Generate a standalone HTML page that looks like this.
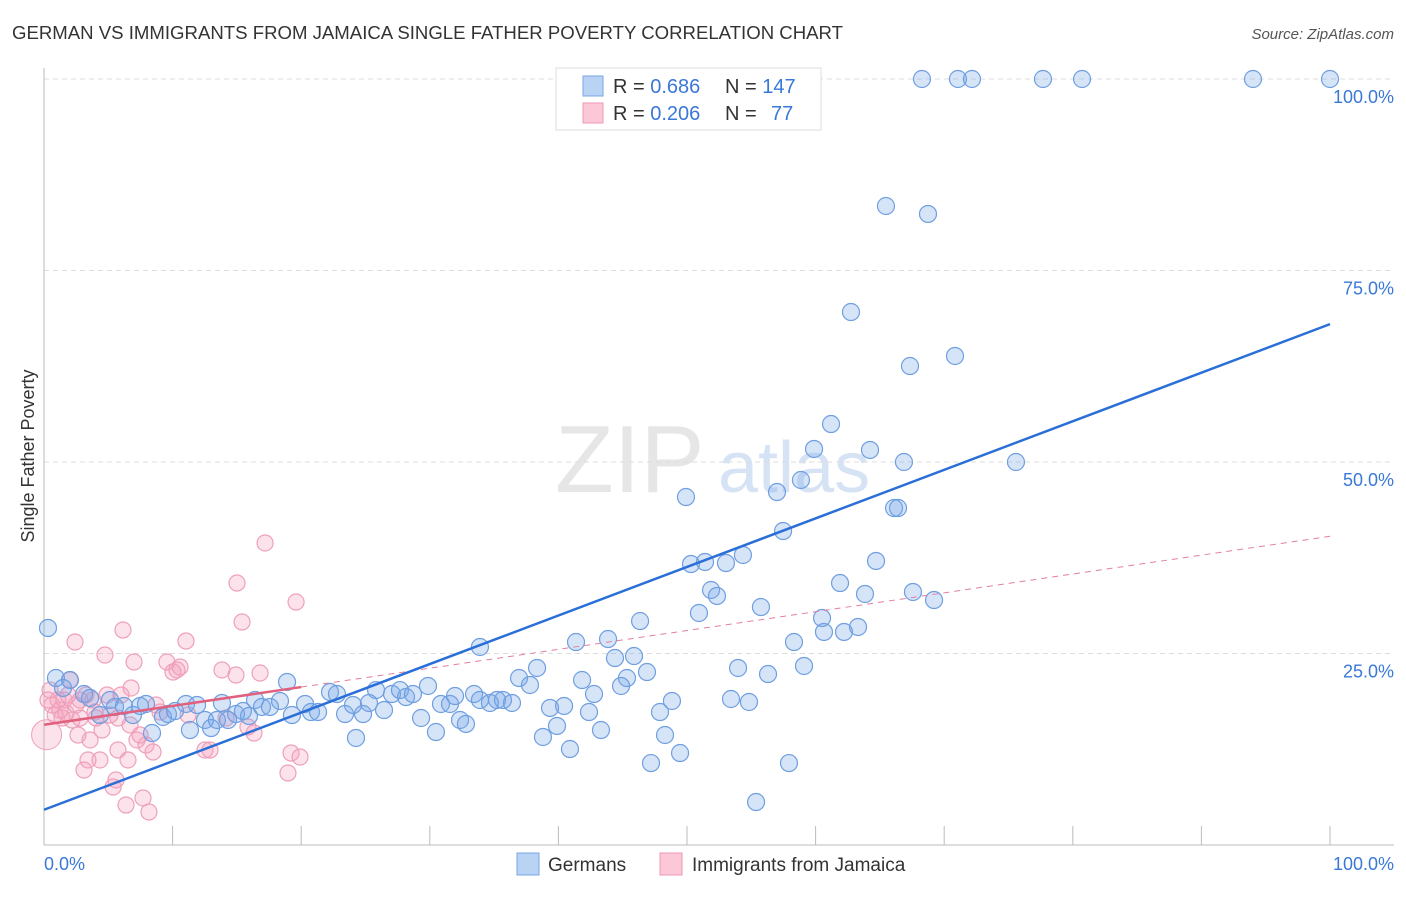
<!DOCTYPE html>
<html><head><meta charset="utf-8"><style>
body{margin:0;background:#fff;font-family:"Liberation Sans",sans-serif;}
svg text{font-family:"Liberation Sans",sans-serif;}
</style></head><body>
<svg width="1406" height="892" viewBox="0 0 1406 892">
<text x="12" y="39" font-size="18" fill="#333" textLength="831" lengthAdjust="spacingAndGlyphs">GERMAN VS IMMIGRANTS FROM JAMAICA SINGLE FATHER POVERTY CORRELATION CHART</text>
<text x="1394" y="39" font-size="15" fill="#555" font-style="italic" text-anchor="end">Source: ZipAtlas.com</text>
<text transform="translate(34,456) rotate(-90)" font-size="18" fill="#333" text-anchor="middle">Single Father Poverty</text>
<text x="555" y="492" font-size="96" fill="#e6e6e6" font-family="Liberation Serif">ZIP</text>
<text x="718" y="492" font-size="72" fill="#d6e3f5">atlas</text>
<g id="grid"></g>
<line x1="44" y1="68" x2="44" y2="845" stroke="#bbb"/>
<line x1="44" y1="845" x2="1394" y2="845" stroke="#bbb"/>
<g id="ticks"></g>
<g id="pink"></g>
<g id="blue"></g>
<g id="lines"></g>
<text x="44" y="870" font-size="18" fill="#3a78d8">0.0%</text>
<text x="1394" y="870" font-size="18" fill="#3a78d8" text-anchor="end">100.0%</text>
<rect x="556" y="68" width="265" height="62" fill="#fff" stroke="#ddd"/>
<rect x="583" y="76" width="20" height="20" fill="#b9d3f5" stroke="#7aa6e3"/>
<rect x="583" y="103" width="20" height="20" fill="#fcc7d7" stroke="#ee9ab6"/>
<text x="613" y="93" font-size="20" fill="#333">R = <tspan fill="#3a78d8">0.686</tspan><tspan x="725">N = </tspan><tspan fill="#3a78d8">147</tspan></text>
<text x="613" y="120" font-size="20" fill="#333">R = <tspan fill="#3a78d8">0.206</tspan><tspan x="725">N = </tspan><tspan fill="#3a78d8" x="771">77</tspan></text>
<rect x="517" y="853" width="22" height="22" fill="#b9d3f5" stroke="#7aa6e3"/>
<text x="548" y="871" font-size="19" fill="#333">Germans</text>
<rect x="660" y="853" width="22" height="22" fill="#fcc7d7" stroke="#ee9ab6"/>
<text x="692" y="871" font-size="19" fill="#333">Immigrants from Jamaica</text>
</svg>
<script>
const yTicks=[25,50,75,100];
const yTickLabels=["25.0%","50.0%","75.0%","100.0%"];
const xTickVals=[0,10,20,30,40,50,60,70,80,90,100];
const bluePx=[[922,79],[958,79],[972,79],[1043,79],[1082,79],[1253,79],[1330,79],[886,206],[928,214],[851,312],[910,366],[955,356],[831,424],[814,449],[870,450],[904,462],[1016,462],[686,497],[777,492],[801,480],[894,508],[898,508],[783,531],[743,555],[691,564],[705,562],[726,563],[711,590],[717,596],[840,583],[876,561],[865,594],[913,592],[934,600],[761,607],[699,613],[640,621],[822,618],[824,632],[844,632],[858,627],[794,642],[576,642],[608,639],[480,647],[634,656],[615,658],[647,672],[738,668],[768,674],[804,666],[582,680],[627,678],[621,686],[537,668],[519,678],[530,685],[594,694],[672,701],[660,712],[731,699],[749,702],[589,712],[564,706],[550,708],[601,730],[665,735],[543,737],[557,726],[570,749],[680,753],[651,763],[789,763],[756,802],[48,628],[56,678],[70,680],[63,688],[84,694],[90,698],[100,715],[110,700],[115,707],[124,706],[133,715],[140,706],[146,704],[152,733],[163,717],[168,714],[175,711],[186,704],[190,730],[197,705],[205,720],[211,728],[217,720],[222,703],[228,720],[236,714],[243,711],[249,716],[255,700],[262,707],[270,707],[280,701],[287,682],[292,715],[305,704],[311,712],[318,712],[330,692],[337,694],[345,714],[353,705],[356,738],[363,714],[369,703],[376,690],[384,710],[392,694],[400,690],[406,697],[413,694],[421,718],[428,686],[436,732],[441,704],[450,704],[455,696],[460,720],[466,724],[474,694],[480,700],[490,703],[497,700],[503,700],[512,703]];
const pinkPx=[[48,700],[52,705],[55,715],[58,700],[62,718],[66,713],[70,680],[72,720],[75,642],[78,735],[80,700],[84,770],[86,695],[88,760],[90,740],[93,700],[96,718],[100,760],[102,730],[105,655],[107,695],[110,715],[113,787],[116,780],[118,750],[121,695],[123,630],[126,805],[128,760],[131,688],[134,662],[137,740],[140,735],[143,798],[146,745],[149,812],[153,752],[156,705],[160,712],[167,662],[173,672],[177,670],[180,667],[186,641],[188,715],[205,750],[210,750],[222,670],[226,718],[236,675],[237,583],[242,622],[248,727],[254,733],[260,673],[265,543],[288,773],[291,753],[296,602],[300,757],[68,695],[95,712],[118,718],[60,710],[80,718],[130,725],[50,690],[64,700],[76,705]];
const germanX=bluePx.map(p=>+((p[0]-44)/12.86).toFixed(2));
const germanY=bluePx.map(p=>+((845-p[1])/7.66).toFixed(2));
const jamaicaX=pinkPx.map(p=>+((p[0]-44)/12.86).toFixed(2));
const jamaicaY=pinkPx.map(p=>+((845-p[1])/7.66).toFixed(2));
const blueFit=[4.6,68.0];
const pinkFit=[15.7,40.3];
const pinkSolidEnd=20;
const xs=v=>44+v*12.86, ys=v=>845-v*7.66;
const NS="http://www.w3.org/2000/svg";
function mk(t,a,parent){const e=document.createElementNS(NS,t);for(const k in a)e.setAttribute(k,a[k]);document.getElementById(parent).appendChild(e);return e;}
yTicks.forEach((t,i)=>{
 const l=mk('line',{x1:44,x2:1394,y1:ys(t),y2:ys(t),stroke:'#ddd','stroke-dasharray':'5,4'},'grid');
 
 
 const tx=mk('text',{x:1394,y:ys(t)+24,'font-size':18,fill:'#3a78d8','text-anchor':'end'},'grid');
 tx.textContent=yTickLabels[i];
 
 
});
xTickVals.forEach(v=>{
 const l=mk('line',{x1:xs(v),x2:xs(v),y1:826,y2:845,stroke:'#bbb'},'ticks');
 
 
});
jamaicaX.forEach((x,i)=>{
 const c=mk('circle',{cx:xs(x),cy:ys(jamaicaY[i]),r:8,fill:'rgba(246,160,188,0.3)',stroke:'#eea0ba','stroke-width':1.2},'pink');
 
 
});
const big=mk('circle',{cx:xs(0.2),cy:ys(14.4),r:15,fill:'rgba(246,160,188,0.3)',stroke:'#eea0ba'},'pink');


germanX.forEach((x,i)=>{
 const c=mk('circle',{cx:xs(x),cy:ys(germanY[i]),r:8.5,fill:'rgba(120,165,232,0.3)',stroke:'#6f9fe0','stroke-width':1.2},'blue');
 
 
});
const pd=mk('line',{x1:xs(pinkSolidEnd),y1:ys(pinkFit[0]+(pinkFit[1]-pinkFit[0])*pinkSolidEnd/100),x2:xs(100),y2:ys(pinkFit[1]),stroke:'#e0809e','stroke-width':1,'stroke-dasharray':'6,5'},'lines');


const ps=mk('line',{x1:xs(0),y1:ys(pinkFit[0]),x2:xs(pinkSolidEnd),y2:ys(pinkFit[0]+(pinkFit[1]-pinkFit[0])*pinkSolidEnd/100),stroke:'#e0607e','stroke-width':2.5},'lines');


const bl=mk('line',{x1:xs(0),y1:ys(blueFit[0]),x2:xs(100),y2:ys(blueFit[1]),stroke:'#2a6fd8','stroke-width':2.5},'lines');


</script>
</body></html>
